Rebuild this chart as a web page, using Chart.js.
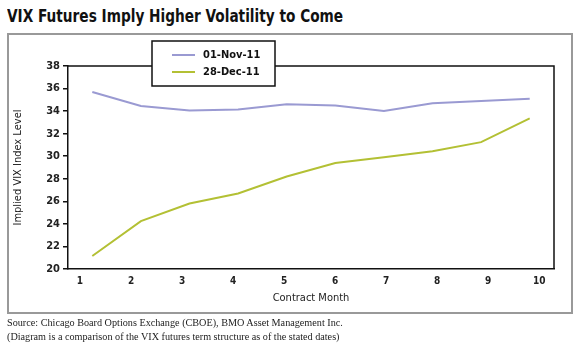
<!DOCTYPE html>
<html>
<head>
<meta charset="utf-8">
<script src="https://cdn.jsdelivr.net/npm/chart.js@4"></script>
<style>
  body { margin: 0; width: 582px; height: 351px; background: #fff; position: relative; overflow: hidden; }
  #title { position: absolute; left: 7px; top: 5px; font: bold 18px "Liberation Sans Narrow", "DejaVu Sans Condensed", sans-serif; color: #111; white-space: nowrap; transform: scaleX(0.845); transform-origin: left top; }
  #frame { position: absolute; left: 7px; top: 33px; width: 562px; height: 277px; border: 2px solid #999; }
  #chart { position: absolute; left: 0; top: 0; }
  #source { position: absolute; left: 7px; top: 316px; font: 10.2px "Liberation Serif", "DejaVu Serif", serif; color: #222; line-height: 14px; white-space: nowrap; }
</style>
</head>
<body>
<div id="title">VIX Futures Imply Higher Volatility to Come</div>
<div id="frame"></div>
<canvas id="chart" width="582" height="351"></canvas>
<div id="source">Source: Chicago Board Options Exchange (CBOE), BMO Asset Management Inc.<br>(Diagram is a comparison of the VIX futures term structure as of the stated dates)</div>
<script>
// contract months (data points) and the tick labels on the axis
const months = [1, 2, 3, 4, 5, 6, 7, 8, 9, 10];
const monthTicks = [1, 2, 3, 4, 5, 6, 7, 8, 9, 10];

const nov11 = [35.7, 34.45, 34.05, 34.15, 34.6, 34.5, 34.0, 34.7, 34.9, 35.1];
const dec11 = [21.15, 24.25, 25.8, 26.7, 28.2, 29.4, 29.9, 30.45, 31.25, 33.35];

const seriesLabels = ['01-Nov-11', '28-Dec-11'];
const seriesColors = ['#9a9ad2', '#b3c034'];

const axisFont = '"Liberation Sans Narrow", "DejaVu Sans Condensed", sans-serif';

// draws top/right edges of the plot box and the floating legend
const boxAndLegend = {
  id: 'boxAndLegend',
  afterDatasetsDraw(chart) {
    const { ctx, chartArea: a } = chart;
    ctx.save();
    ctx.strokeStyle = '#111';
    ctx.lineWidth = 1.5;
    ctx.beginPath();
    ctx.moveTo(a.left, a.top);
    ctx.lineTo(a.right, a.top);
    ctx.lineTo(a.right, a.bottom);
    ctx.stroke();

    const bx = a.left + 84, by = a.top - 25, bw = 123, bh = 45;
    ctx.fillStyle = '#fff';
    ctx.fillRect(bx, by, bw, bh);
    ctx.strokeRect(bx, by, bw, bh);

    chart.data.datasets.forEach((ds, i) => {
      const y = by + 14 + i * 17;
      ctx.strokeStyle = ds.borderColor;
      ctx.lineWidth = 2;
      ctx.beginPath();
      ctx.moveTo(bx + 20, y);
      ctx.lineTo(bx + 43, y);
      ctx.stroke();
      ctx.fillStyle = '#111';
      ctx.font = 'bold 11px ' + axisFont;
      ctx.textBaseline = 'middle';
      ctx.fillText(ds.label, bx + 51, y);
    });
    ctx.restore();
  }
};

new Chart(document.getElementById('chart'), {
  type: 'line',
  data: {
    labels: months,
    datasets: [
      { label: seriesLabels[0], data: nov11, borderColor: seriesColors[0], borderWidth: 2, pointRadius: 0, tension: 0, fill: false },
      { label: seriesLabels[1], data: dec11, borderColor: seriesColors[1], borderWidth: 2, pointRadius: 0, tension: 0, fill: false }
    ]
  },
  options: {
    responsive: false,
    animation: false,
    layout: { padding: { left: 8, top: 66, right: 28, bottom: 42 } },
    plugins: { legend: { display: false }, tooltip: { enabled: false } },
    scales: {
      x: { type: 'category', offset: true, display: false },
      xTicks: {
        type: 'linear',
        position: 'bottom',
        min: 0.765,
        max: 10.29,
        afterBuildTicks: (scale) => { scale.ticks = monthTicks.map(v => ({ value: v })); },
        afterFit: (scale) => { scale.height = 40; },
        grid: { display: false, drawTicks: false },
        border: { display: true, color: '#111', width: 1.5 },
        ticks: { padding: 6, color: '#222', font: { family: axisFont, size: 10, weight: 'bold' } },
        title: { display: true, text: 'Contract Month', color: '#222', font: { family: axisFont, size: 11 } }
      },
      y: {
        min: 20,
        max: 38,
        afterFit: (scale) => { scale.width = 60; },
        grid: { drawOnChartArea: false, drawTicks: true, tickLength: 5, color: '#111', lineWidth: 1.5 },
        border: { display: true, color: '#111', width: 1.5 },
        ticks: { stepSize: 2, padding: 3, color: '#222', font: { family: axisFont, size: 11, weight: 'bold' } },
        title: { display: true, text: 'Implied VIX Index Level', color: '#222', font: { family: axisFont, size: 11 } }
      }
    }
  },
  plugins: [boxAndLegend]
});
</script>
</body>
</html>
